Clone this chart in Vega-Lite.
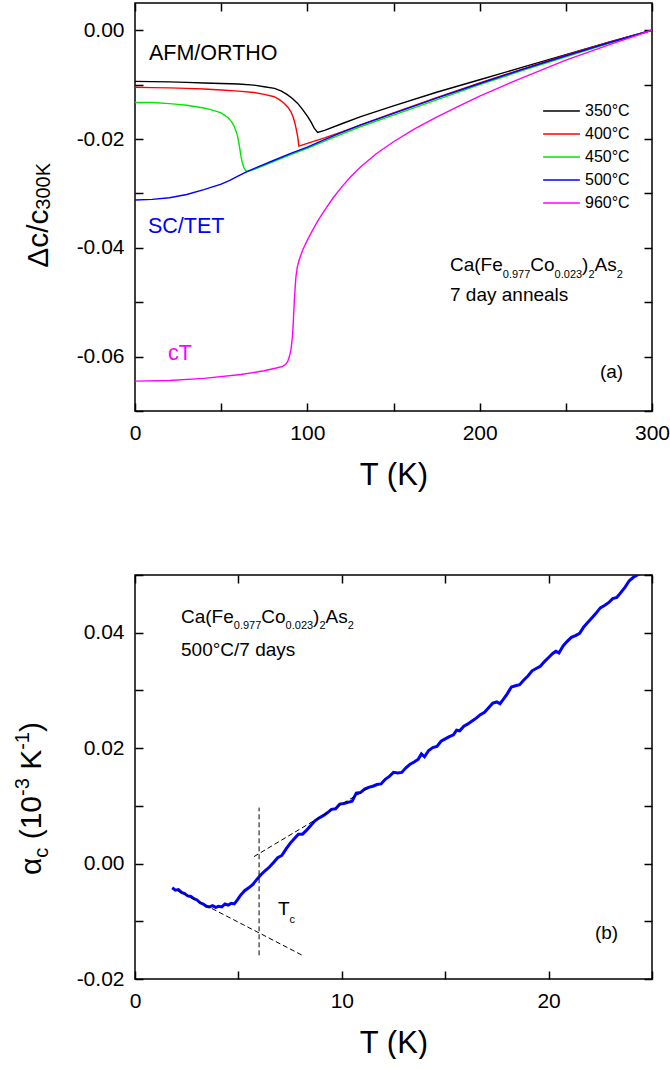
{
  "$schema": "https://vega.github.io/schema/vega-lite/v6.json",
  "background": "white",
  "padding": {"left": 12, "top": 1, "right": 0, "bottom": 0},
  "spacing": 72,
  "config": {
    "font": "Liberation Sans",
    "view": {"stroke": "black", "strokeWidth": 1.5},
    "text": {"font": "Liberation Sans", "color": "black"},
    "axis": {
      "domain": false, "grid": false, "ticks": true,
      "tickSize": -8, "tickColor": "black", "tickWidth": 1.5,
      "labelFont": "Liberation Sans", "labelFontSize": 21, "labelColor": "black",
      "labelPadding": 19, "labelFlush": false, "labelOverlap": false,
      "titleFont": "Liberation Sans", "titleFontSize": 31, "titleFontWeight": "normal",
      "titleColor": "black", "titlePadding": 17
    }
  },
  "resolve": {"scale": {"color": "independent"}, "legend": {"color": "independent"}},
  "vconcat": [
    {
      "width": 517,
      "height": 408,
      "resolve": {"axis": {"x": "independent", "y": "independent"}},
      "layer": [
        {
          "data": {"values": [
            {"T": 0, "v": -0.0094, "anneal": "350°C"}, {"T": 10, "v": -0.00945, "anneal": "350°C"}, {"T": 20, "v": -0.0095, "anneal": "350°C"}, {"T": 30, "v": -0.0096, "anneal": "350°C"}, {"T": 40, "v": -0.0097, "anneal": "350°C"}, {"T": 50, "v": -0.0098, "anneal": "350°C"}, {"T": 60, "v": -0.0099, "anneal": "350°C"}, {"T": 69, "v": -0.0101, "anneal": "350°C"}, {"T": 75, "v": -0.0104, "anneal": "350°C"}, {"T": 81, "v": -0.0107, "anneal": "350°C"}, {"T": 85, "v": -0.0112, "anneal": "350°C"}, {"T": 88.6, "v": -0.0119, "anneal": "350°C"}, {"T": 91.5, "v": -0.0126, "anneal": "350°C"}, {"T": 94.4, "v": -0.01345, "anneal": "350°C"}, {"T": 97.3, "v": -0.0146, "anneal": "350°C"}, {"T": 100.2, "v": -0.0159, "anneal": "350°C"}, {"T": 102.2, "v": -0.0169, "anneal": "350°C"}, {"T": 104, "v": -0.018, "anneal": "350°C"}, {"T": 106, "v": -0.0188, "anneal": "350°C"}, {"T": 110, "v": -0.0184, "anneal": "350°C"}, {"T": 120, "v": -0.0172, "anneal": "350°C"}, {"T": 131, "v": -0.0159, "anneal": "350°C"}, {"T": 150, "v": -0.0139, "anneal": "350°C"}, {"T": 175, "v": -0.0114, "anneal": "350°C"}, {"T": 200, "v": -0.0091, "anneal": "350°C"}, {"T": 225, "v": -0.0068, "anneal": "350°C"}, {"T": 250, "v": -0.0045, "anneal": "350°C"}, {"T": 275, "v": -0.0022, "anneal": "350°C"}, {"T": 300, "v": 0, "anneal": "350°C"},
            {"T": 0, "v": -0.0105, "anneal": "400°C"}, {"T": 10, "v": -0.01055, "anneal": "400°C"}, {"T": 20, "v": -0.0106, "anneal": "400°C"}, {"T": 30, "v": -0.0107, "anneal": "400°C"}, {"T": 40, "v": -0.0108, "anneal": "400°C"}, {"T": 50, "v": -0.011, "anneal": "400°C"}, {"T": 60, "v": -0.0112, "anneal": "400°C"}, {"T": 69, "v": -0.01144, "anneal": "400°C"}, {"T": 75, "v": -0.0118, "anneal": "400°C"}, {"T": 80.8, "v": -0.01223, "anneal": "400°C"}, {"T": 84, "v": -0.0128, "anneal": "400°C"}, {"T": 86.7, "v": -0.01346, "anneal": "400°C"}, {"T": 88.8, "v": -0.0142, "anneal": "400°C"}, {"T": 90.5, "v": -0.015, "anneal": "400°C"}, {"T": 91.8, "v": -0.016, "anneal": "400°C"}, {"T": 92.8, "v": -0.0171, "anneal": "400°C"}, {"T": 93.7, "v": -0.0184, "anneal": "400°C"}, {"T": 94.4, "v": -0.01957, "anneal": "400°C"}, {"T": 95.1, "v": -0.0213, "anneal": "400°C"}, {"T": 100, "v": -0.0208, "anneal": "400°C"}, {"T": 110, "v": -0.0198, "anneal": "400°C"}, {"T": 120, "v": -0.0187, "anneal": "400°C"}, {"T": 131, "v": -0.0174, "anneal": "400°C"}, {"T": 150, "v": -0.0152, "anneal": "400°C"}, {"T": 175, "v": -0.0124, "anneal": "400°C"}, {"T": 200, "v": -0.0097, "anneal": "400°C"}, {"T": 225, "v": -0.0071, "anneal": "400°C"}, {"T": 250, "v": -0.0046, "anneal": "400°C"}, {"T": 275, "v": -0.0022, "anneal": "400°C"}, {"T": 300, "v": 0, "anneal": "400°C"},
            {"T": 0, "v": -0.0133, "anneal": "450°C"}, {"T": 10, "v": -0.0133, "anneal": "450°C"}, {"T": 20, "v": -0.0135, "anneal": "450°C"}, {"T": 25, "v": -0.01364, "anneal": "450°C"}, {"T": 30, "v": -0.0138, "anneal": "450°C"}, {"T": 40, "v": -0.0143, "anneal": "450°C"}, {"T": 45, "v": -0.0147, "anneal": "450°C"}, {"T": 50, "v": -0.0152, "anneal": "450°C"}, {"T": 54, "v": -0.0161, "anneal": "450°C"}, {"T": 56, "v": -0.0168, "anneal": "450°C"}, {"T": 57.6, "v": -0.0177, "anneal": "450°C"}, {"T": 58.7, "v": -0.0186, "anneal": "450°C"}, {"T": 59.6, "v": -0.0196, "anneal": "450°C"}, {"T": 60.6, "v": -0.0213, "anneal": "450°C"}, {"T": 61.5, "v": -0.0232, "anneal": "450°C"}, {"T": 62.3, "v": -0.0244, "anneal": "450°C"}, {"T": 63.1, "v": -0.0252, "anneal": "450°C"}, {"T": 64, "v": -0.0257, "anneal": "450°C"}, {"T": 65, "v": -0.026, "anneal": "450°C"}, {"T": 70, "v": -0.0255, "anneal": "450°C"}, {"T": 80, "v": -0.0242, "anneal": "450°C"}, {"T": 90, "v": -0.0229, "anneal": "450°C"}, {"T": 100, "v": -0.0217, "anneal": "450°C"}, {"T": 110, "v": -0.0204, "anneal": "450°C"}, {"T": 120, "v": -0.0191, "anneal": "450°C"}, {"T": 131, "v": -0.0177, "anneal": "450°C"}, {"T": 150, "v": -0.0156, "anneal": "450°C"}, {"T": 175, "v": -0.0128, "anneal": "450°C"}, {"T": 200, "v": -0.01, "anneal": "450°C"}, {"T": 225, "v": -0.0074, "anneal": "450°C"}, {"T": 250, "v": -0.0049, "anneal": "450°C"}, {"T": 275, "v": -0.0024, "anneal": "450°C"}, {"T": 300, "v": 0, "anneal": "450°C"},
            {"T": 0, "v": -0.0312, "anneal": "500°C"}, {"T": 10, "v": -0.0311, "anneal": "500°C"}, {"T": 20, "v": -0.0308, "anneal": "500°C"}, {"T": 30, "v": -0.0302, "anneal": "500°C"}, {"T": 40, "v": -0.0293, "anneal": "500°C"}, {"T": 50, "v": -0.0283, "anneal": "500°C"}, {"T": 55, "v": -0.0276, "anneal": "500°C"}, {"T": 60, "v": -0.0268, "anneal": "500°C"}, {"T": 65, "v": -0.026, "anneal": "500°C"}, {"T": 70, "v": -0.0253, "anneal": "500°C"}, {"T": 80, "v": -0.024, "anneal": "500°C"}, {"T": 90, "v": -0.0227, "anneal": "500°C"}, {"T": 100, "v": -0.0215, "anneal": "500°C"}, {"T": 110, "v": -0.0201, "anneal": "500°C"}, {"T": 120, "v": -0.0188, "anneal": "500°C"}, {"T": 131, "v": -0.0174, "anneal": "500°C"}, {"T": 150, "v": -0.0153, "anneal": "500°C"}, {"T": 175, "v": -0.0125, "anneal": "500°C"}, {"T": 200, "v": -0.0098, "anneal": "500°C"}, {"T": 225, "v": -0.0072, "anneal": "500°C"}, {"T": 250, "v": -0.0047, "anneal": "500°C"}, {"T": 275, "v": -0.0023, "anneal": "500°C"}, {"T": 300, "v": 0, "anneal": "500°C"},
            {"T": 0, "v": -0.0645, "anneal": "960°C"}, {"T": 20, "v": -0.0644, "anneal": "960°C"}, {"T": 40, "v": -0.064, "anneal": "960°C"}, {"T": 61.5, "v": -0.0633, "anneal": "960°C"}, {"T": 75, "v": -0.0626, "anneal": "960°C"}, {"T": 82, "v": -0.0621, "anneal": "960°C"}, {"T": 85.7, "v": -0.0618, "anneal": "960°C"}, {"T": 87.5, "v": -0.0614, "anneal": "960°C"}, {"T": 88.6, "v": -0.0609, "anneal": "960°C"}, {"T": 89.6, "v": -0.06, "anneal": "960°C"}, {"T": 90.5, "v": -0.0587, "anneal": "960°C"}, {"T": 91, "v": -0.0574, "anneal": "960°C"}, {"T": 91.5, "v": -0.0557, "anneal": "960°C"}, {"T": 92, "v": -0.0527, "anneal": "960°C"}, {"T": 92.5, "v": -0.0495, "anneal": "960°C"}, {"T": 93, "v": -0.047, "anneal": "960°C"}, {"T": 93.4, "v": -0.0453, "anneal": "960°C"}, {"T": 94.2, "v": -0.0435, "anneal": "960°C"}, {"T": 95.3, "v": -0.0422, "anneal": "960°C"}, {"T": 97.3, "v": -0.0404, "anneal": "960°C"}, {"T": 100, "v": -0.0386, "anneal": "960°C"}, {"T": 103, "v": -0.0368, "anneal": "960°C"}, {"T": 106, "v": -0.0351, "anneal": "960°C"}, {"T": 110, "v": -0.0331, "anneal": "960°C"}, {"T": 115, "v": -0.0308, "anneal": "960°C"}, {"T": 120, "v": -0.0288, "anneal": "960°C"}, {"T": 125, "v": -0.027, "anneal": "960°C"}, {"T": 131, "v": -0.0251, "anneal": "960°C"}, {"T": 140, "v": -0.0227, "anneal": "960°C"}, {"T": 150, "v": -0.0205, "anneal": "960°C"}, {"T": 162, "v": -0.0182, "anneal": "960°C"}, {"T": 175, "v": -0.016, "anneal": "960°C"}, {"T": 187, "v": -0.0141, "anneal": "960°C"}, {"T": 200, "v": -0.0121, "anneal": "960°C"}, {"T": 225, "v": -0.0087, "anneal": "960°C"}, {"T": 250, "v": -0.0055, "anneal": "960°C"}, {"T": 275, "v": -0.0027, "anneal": "960°C"}, {"T": 300, "v": 0, "anneal": "960°C"}
          ]},
          "mark": {"type": "line", "strokeWidth": 1.4, "clip": true},
          "encoding": {
            "x": {"field": "T", "type": "quantitative", "scale": {"domain": [0, 300], "nice": false},
                  "axis": {"orient": "bottom", "values": [0, 50, 100, 150, 200, 250, 300], "labelExpr": "datum.value % 100 === 0 ? datum.label : ''", "title": "T (K)"}},
            "y": {"field": "v", "type": "quantitative", "scale": {"domain": [-0.07, 0.005], "nice": false},
                  "axis": {"orient": "left", "values": [-0.07, -0.06, -0.05, -0.04, -0.03, -0.02, -0.01, 0], "format": ".2f", "labelExpr": "abs(round(datum.value*100)) % 2 === 0 ? replace(datum.label, '−', '-') : ''", "title": null}},
            "color": {"field": "anneal", "type": "nominal",
                      "scale": {"domain": ["350°C", "400°C", "450°C", "500°C", "960°C"], "range": ["#000000", "#ff0000", "#00e600", "#0000ff", "#ff00ff"]},
                      "legend": {"orient": "none", "legendX": 407, "legendY": 100, "title": null, "padding": 0,
                                 "symbolType": "stroke", "symbolSize": 1350, "symbolStrokeWidth": 1.5,
                                 "labelFont": "Liberation Sans", "labelFontSize": 16, "labelColor": "black", "labelOffset": 4,
                                 "clipHeight": 16, "rowPadding": 7}}
          }
        },
        {"data": {"values": [{}]}, "mark": {"type": "text", "text": "AFM/ORTHO", "fontSize": 21.5, "align": "left", "baseline": "alphabetic", "color": "black"},
         "encoding": {"x": {"datum": 8.1, "type": "quantitative", "axis": null}, "y": {"datum": -0.0055, "type": "quantitative", "axis": null}}},
        {"data": {"values": [{}]}, "mark": {"type": "text", "text": "SC/TET", "fontSize": 21.5, "align": "left", "baseline": "alphabetic", "color": "#0000ff"},
         "encoding": {"x": {"datum": 7.5, "type": "quantitative", "axis": null}, "y": {"datum": -0.03725, "type": "quantitative", "axis": null}}},
        {"data": {"values": [{}]}, "mark": {"type": "text", "text": "cT", "fontSize": 21.5, "align": "left", "baseline": "alphabetic", "color": "#ff00ff"},
         "encoding": {"x": {"datum": 19.1, "type": "quantitative", "axis": null}, "y": {"datum": -0.06055, "type": "quantitative", "axis": null}}},
        {"data": {"values": [{}]}, "mark": {"type": "text", "text": "Ca(Fe", "fontSize": 19, "align": "left", "baseline": "alphabetic"},
         "encoding": {"x": {"datum": 182.79, "type": "quantitative", "axis": null}, "y": {"datum": -0.04435, "type": "quantitative", "axis": null}}},
        {"data": {"values": [{}]}, "mark": {"type": "text", "text": "0.977", "fontSize": 11, "align": "left", "baseline": "alphabetic"},
         "encoding": {"x": {"datum": 213.42, "type": "quantitative", "axis": null}, "y": {"datum": -0.04556, "type": "quantitative", "axis": null}}},
        {"data": {"values": [{}]}, "mark": {"type": "text", "text": "Co", "fontSize": 19, "align": "left", "baseline": "alphabetic"},
         "encoding": {"x": {"datum": 229.38, "type": "quantitative", "axis": null}, "y": {"datum": -0.04435, "type": "quantitative", "axis": null}}},
        {"data": {"values": [{}]}, "mark": {"type": "text", "text": "0.023", "fontSize": 11, "align": "left", "baseline": "alphabetic"},
         "encoding": {"x": {"datum": 243.48, "type": "quantitative", "axis": null}, "y": {"datum": -0.04556, "type": "quantitative", "axis": null}}},
        {"data": {"values": [{}]}, "mark": {"type": "text", "text": ")", "fontSize": 19, "align": "left", "baseline": "alphabetic"},
         "encoding": {"x": {"datum": 259.44, "type": "quantitative", "axis": null}, "y": {"datum": -0.04435, "type": "quantitative", "axis": null}}},
        {"data": {"values": [{}]}, "mark": {"type": "text", "text": "2", "fontSize": 11, "align": "left", "baseline": "alphabetic"},
         "encoding": {"x": {"datum": 263.09, "type": "quantitative", "axis": null}, "y": {"datum": -0.04556, "type": "quantitative", "axis": null}}},
        {"data": {"values": [{}]}, "mark": {"type": "text", "text": "As", "fontSize": 19, "align": "left", "baseline": "alphabetic"},
         "encoding": {"x": {"datum": 266.63, "type": "quantitative", "axis": null}, "y": {"datum": -0.04435, "type": "quantitative", "axis": null}}},
        {"data": {"values": [{}]}, "mark": {"type": "text", "text": "2", "fontSize": 11, "align": "left", "baseline": "alphabetic"},
         "encoding": {"x": {"datum": 279.52, "type": "quantitative", "axis": null}, "y": {"datum": -0.04556, "type": "quantitative", "axis": null}}},
        {"data": {"values": [{}]}, "mark": {"type": "text", "text": "7 day anneals", "fontSize": 19, "align": "left", "baseline": "alphabetic"},
         "encoding": {"x": {"datum": 182.79, "type": "quantitative", "axis": null}, "y": {"datum": -0.04972, "type": "quantitative", "axis": null}}},
        {"data": {"values": [{}]}, "mark": {"type": "text", "text": "Δc/c", "fontSize": 30, "angle": 270, "align": "left", "baseline": "alphabetic"},
         "encoding": {"x": {"datum": -50.48, "type": "quantitative", "axis": null}, "y": {"datum": -0.04367, "type": "quantitative", "axis": null}}},
        {"data": {"values": [{}]}, "mark": {"type": "text", "text": "300K", "fontSize": 20, "angle": 270, "align": "left", "baseline": "alphabetic"},
         "encoding": {"x": {"datum": -49.61, "type": "quantitative", "axis": null}, "y": {"datum": -0.033, "type": "quantitative", "axis": null}}},
        {"data": {"values": [{}]}, "mark": {"type": "text", "text": "(a)", "fontSize": 19, "align": "left", "baseline": "alphabetic"},
         "encoding": {
           "x": {"datum": 269.8, "type": "quantitative", "axis": {"orient": "top", "values": [0, 50, 100, 150, 200, 250, 300], "labels": false, "title": null}},
           "y": {"datum": -0.06385, "type": "quantitative", "axis": {"orient": "right", "values": [-0.07, -0.06, -0.05, -0.04, -0.03, -0.02, -0.01, 0], "labels": false, "title": null}}
         }}
      ]
    },
    {
      "width": 517,
      "height": 404,
      "resolve": {"axis": {"x": "independent", "y": "independent"}},
      "layer": [
        {
          "data": {"values": [
            {"T": 1.8, "a": -0.0042}, {"T": 1.95, "a": -0.0046}, {"T": 2.1, "a": -0.0045}, {"T": 2.25, "a": -0.005}, {"T": 2.4, "a": -0.0052}, {"T": 2.55, "a": -0.0056}, {"T": 2.7, "a": -0.0057}, {"T": 2.85, "a": -0.0061}, {"T": 3.0, "a": -0.0063}, {"T": 3.15, "a": -0.0068}, {"T": 3.3, "a": -0.007}, {"T": 3.45, "a": -0.0074}, {"T": 3.6, "a": -0.0075}, {"T": 3.75, "a": -0.0073}, {"T": 3.9, "a": -0.0076}, {"T": 4.05, "a": -0.0074}, {"T": 4.2, "a": -0.0075}, {"T": 4.35, "a": -0.007}, {"T": 4.5, "a": -0.0072}, {"T": 4.65, "a": -0.0069}, {"T": 4.8, "a": -0.007}, {"T": 4.95, "a": -0.0063},
            {"T": 5.1, "a": -0.0055}, {"T": 5.3, "a": -0.0047}, {"T": 5.5, "a": -0.0042}, {"T": 5.7, "a": -0.0036}, {"T": 5.9, "a": -0.0027}, {"T": 6.1, "a": -0.0019}, {"T": 6.3, "a": -0.0012}, {"T": 6.5, "a": -0.0006}, {"T": 6.7, "a": 0.0002}, {"T": 6.9, "a": 0.001}, {"T": 7.1, "a": 0.0014}, {"T": 7.3, "a": 0.0025}, {"T": 7.5, "a": 0.0035}, {"T": 7.7, "a": 0.0043}, {"T": 7.9, "a": 0.0051}, {"T": 8.1, "a": 0.0051}, {"T": 8.3, "a": 0.0058}, {"T": 8.5, "a": 0.0066}, {"T": 8.7, "a": 0.0074}, {"T": 8.9, "a": 0.0079},
            {"T": 9.1, "a": 0.0083}, {"T": 9.3, "a": 0.0088}, {"T": 9.5, "a": 0.0094}, {"T": 9.7, "a": 0.0095}, {"T": 9.9, "a": 0.0103}, {"T": 10.1, "a": 0.0104}, {"T": 10.3, "a": 0.0106}, {"T": 10.5, "a": 0.0108}, {"T": 10.7, "a": 0.0122}, {"T": 10.9, "a": 0.0123}, {"T": 11.1, "a": 0.0129}, {"T": 11.3, "a": 0.0132}, {"T": 11.5, "a": 0.0134}, {"T": 11.7, "a": 0.0137}, {"T": 11.9, "a": 0.0138}, {"T": 12.1, "a": 0.0146}, {"T": 12.3, "a": 0.0151}, {"T": 12.5, "a": 0.0158}, {"T": 12.7, "a": 0.0157}, {"T": 12.9, "a": 0.0158},
            {"T": 13.1, "a": 0.0166}, {"T": 13.3, "a": 0.0172}, {"T": 13.5, "a": 0.0176}, {"T": 13.7, "a": 0.0181}, {"T": 13.85, "a": 0.019}, {"T": 14.0, "a": 0.0185}, {"T": 14.2, "a": 0.0196}, {"T": 14.4, "a": 0.0201}, {"T": 14.6, "a": 0.0203}, {"T": 14.8, "a": 0.0212}, {"T": 15.0, "a": 0.0216}, {"T": 15.2, "a": 0.022}, {"T": 15.4, "a": 0.0223}, {"T": 15.55, "a": 0.0231}, {"T": 15.7, "a": 0.023}, {"T": 15.9, "a": 0.0238}, {"T": 16.1, "a": 0.0242}, {"T": 16.3, "a": 0.0247}, {"T": 16.5, "a": 0.0252}, {"T": 16.7, "a": 0.0258},
            {"T": 16.9, "a": 0.0262}, {"T": 17.1, "a": 0.027}, {"T": 17.3, "a": 0.0278}, {"T": 17.5, "a": 0.028}, {"T": 17.65, "a": 0.0277}, {"T": 17.8, "a": 0.0284}, {"T": 18.0, "a": 0.0294}, {"T": 18.2, "a": 0.0306}, {"T": 18.4, "a": 0.0308}, {"T": 18.6, "a": 0.031}, {"T": 18.8, "a": 0.0318}, {"T": 19.0, "a": 0.0325}, {"T": 19.2, "a": 0.0334}, {"T": 19.4, "a": 0.0338}, {"T": 19.6, "a": 0.0342}, {"T": 19.8, "a": 0.035}, {"T": 20.0, "a": 0.0357}, {"T": 20.2, "a": 0.0364}, {"T": 20.35, "a": 0.0368}, {"T": 20.5, "a": 0.0365},
            {"T": 20.7, "a": 0.0377}, {"T": 20.9, "a": 0.0385}, {"T": 21.1, "a": 0.0392}, {"T": 21.3, "a": 0.0395}, {"T": 21.5, "a": 0.0399}, {"T": 21.7, "a": 0.041}, {"T": 21.9, "a": 0.0418}, {"T": 22.1, "a": 0.0426}, {"T": 22.3, "a": 0.0434}, {"T": 22.5, "a": 0.0443}, {"T": 22.7, "a": 0.0447}, {"T": 22.9, "a": 0.0452}, {"T": 23.1, "a": 0.0459}, {"T": 23.3, "a": 0.0461}, {"T": 23.5, "a": 0.047}, {"T": 23.7, "a": 0.0479}, {"T": 23.9, "a": 0.049}, {"T": 24.1, "a": 0.0496}, {"T": 24.3, "a": 0.05}, {"T": 24.45, "a": 0.0503}
          ]},
          "mark": {"type": "line", "strokeWidth": 3, "color": "#0000ff", "clip": true},
          "encoding": {
            "x": {"field": "T", "type": "quantitative", "scale": {"domain": [0, 25], "nice": false},
                  "axis": {"orient": "bottom", "values": [0, 5, 10, 15, 20, 25], "labelExpr": "datum.value % 10 === 0 ? datum.label : ''", "title": "T (K)"}},
            "y": {"field": "a", "type": "quantitative", "scale": {"domain": [-0.02, 0.05], "nice": false},
                  "axis": {"orient": "left", "values": [-0.02, -0.01, 0, 0.01, 0.02, 0.03, 0.04, 0.05], "format": ".2f", "labelExpr": "abs(round(datum.value*100)) % 2 === 0 ? replace(datum.label, '−', '-') : ''", "title": null}}
          }
        },
        {
          "data": {"values": [
            {"fit": "Tc", "T": 6.0, "a": -0.0159}, {"fit": "Tc", "T": 6.0, "a": 0.0097},
            {"fit": "low", "T": 2.0, "a": -0.0046}, {"fit": "low", "T": 8.15, "a": -0.016},
            {"fit": "high", "T": 5.75, "a": 0.0012}, {"fit": "high", "T": 11.3, "a": 0.0131}
          ]},
          "mark": {"type": "line", "strokeWidth": 1, "color": "black", "strokeDash": [5, 3]},
          "encoding": {
            "x": {"field": "T", "type": "quantitative", "axis": null},
            "y": {"field": "a", "type": "quantitative", "axis": null},
            "detail": {"field": "fit", "type": "nominal"}
          }
        },
        {"data": {"values": [{}]}, "mark": {"type": "text", "text": "Ca(Fe", "fontSize": 19, "align": "left", "baseline": "alphabetic"},
         "encoding": {"x": {"datum": 2.224, "type": "quantitative", "axis": null}, "y": {"datum": 0.041735, "type": "quantitative", "axis": null}}},
        {"data": {"values": [{}]}, "mark": {"type": "text", "text": "0.977", "fontSize": 11, "align": "left", "baseline": "alphabetic"},
         "encoding": {"x": {"datum": 4.778, "type": "quantitative", "axis": null}, "y": {"datum": 0.040644, "type": "quantitative", "axis": null}}},
        {"data": {"values": [{}]}, "mark": {"type": "text", "text": "Co", "fontSize": 19, "align": "left", "baseline": "alphabetic"},
         "encoding": {"x": {"datum": 6.107, "type": "quantitative", "axis": null}, "y": {"datum": 0.041735, "type": "quantitative", "axis": null}}},
        {"data": {"values": [{}]}, "mark": {"type": "text", "text": "0.023", "fontSize": 11, "align": "left", "baseline": "alphabetic"},
         "encoding": {"x": {"datum": 7.282, "type": "quantitative", "axis": null}, "y": {"datum": 0.040644, "type": "quantitative", "axis": null}}},
        {"data": {"values": [{}]}, "mark": {"type": "text", "text": ")", "fontSize": 19, "align": "left", "baseline": "alphabetic"},
         "encoding": {"x": {"datum": 8.612, "type": "quantitative", "axis": null}, "y": {"datum": 0.041735, "type": "quantitative", "axis": null}}},
        {"data": {"values": [{}]}, "mark": {"type": "text", "text": "2", "fontSize": 11, "align": "left", "baseline": "alphabetic"},
         "encoding": {"x": {"datum": 8.917, "type": "quantitative", "axis": null}, "y": {"datum": 0.040644, "type": "quantitative", "axis": null}}},
        {"data": {"values": [{}]}, "mark": {"type": "text", "text": "As", "fontSize": 19, "align": "left", "baseline": "alphabetic"},
         "encoding": {"x": {"datum": 9.212, "type": "quantitative", "axis": null}, "y": {"datum": 0.041735, "type": "quantitative", "axis": null}}},
        {"data": {"values": [{}]}, "mark": {"type": "text", "text": "2", "fontSize": 11, "align": "left", "baseline": "alphabetic"},
         "encoding": {"x": {"datum": 10.285, "type": "quantitative", "axis": null}, "y": {"datum": 0.040644, "type": "quantitative", "axis": null}}},
        {"data": {"values": [{}]}, "mark": {"type": "text", "text": "500°C/7 days", "fontSize": 19, "align": "left", "baseline": "alphabetic"},
         "encoding": {"x": {"datum": 2.224, "type": "quantitative", "axis": null}, "y": {"datum": 0.03588, "type": "quantitative", "axis": null}}},
        {"data": {"values": [{}]}, "mark": {"type": "text", "text": "T", "fontSize": 19, "align": "left", "baseline": "alphabetic"},
         "encoding": {"x": {"datum": 6.915, "type": "quantitative", "axis": null}, "y": {"datum": -0.00891, "type": "quantitative", "axis": null}}},
        {"data": {"values": [{}]}, "mark": {"type": "text", "text": "c", "fontSize": 11, "align": "left", "baseline": "alphabetic"},
         "encoding": {"x": {"datum": 7.476, "type": "quantitative", "axis": null}, "y": {"datum": -0.0103, "type": "quantitative", "axis": null}}},
        {"data": {"values": [{}]}, "mark": {"type": "text", "text": "α", "fontSize": 30, "angle": 270, "align": "left", "baseline": "alphabetic"},
         "encoding": {"x": {"datum": -4.545, "type": "quantitative", "axis": null}, "y": {"datum": -0.00198, "type": "quantitative", "axis": null}}},
        {"data": {"values": [{}]}, "mark": {"type": "text", "text": "c", "fontSize": 20, "angle": 270, "align": "left", "baseline": "alphabetic"},
         "encoding": {"x": {"datum": -4.207, "type": "quantitative", "axis": null}, "y": {"datum": 0.00102, "type": "quantitative", "axis": null}}},
        {"data": {"values": [{}]}, "mark": {"type": "text", "text": "(10", "fontSize": 30, "angle": 270, "align": "left", "baseline": "alphabetic"},
         "encoding": {"x": {"datum": -4.545, "type": "quantitative", "axis": null}, "y": {"datum": 0.004195, "type": "quantitative", "axis": null}}},
        {"data": {"values": [{}]}, "mark": {"type": "text", "text": "-3", "fontSize": 20, "angle": 270, "align": "left", "baseline": "alphabetic"},
         "encoding": {"x": {"datum": -5.126, "type": "quantitative", "axis": null}, "y": {"datum": 0.01171, "type": "quantitative", "axis": null}}},
        {"data": {"values": [{}]}, "mark": {"type": "text", "text": "K", "fontSize": 30, "angle": 270, "align": "left", "baseline": "alphabetic"},
         "encoding": {"x": {"datum": -4.545, "type": "quantitative", "axis": null}, "y": {"datum": 0.016237, "type": "quantitative", "axis": null}}},
        {"data": {"values": [{}]}, "mark": {"type": "text", "text": "-1", "fontSize": 20, "angle": 270, "align": "left", "baseline": "alphabetic"},
         "encoding": {"x": {"datum": -5.126, "type": "quantitative", "axis": null}, "y": {"datum": 0.0197, "type": "quantitative", "axis": null}}},
        {"data": {"values": [{}]}, "mark": {"type": "text", "text": ")", "fontSize": 30, "angle": 270, "align": "left", "baseline": "alphabetic"},
         "encoding": {"x": {"datum": -4.545, "type": "quantitative", "axis": null}, "y": {"datum": 0.02279, "type": "quantitative", "axis": null}}},
        {"data": {"values": [{}]}, "mark": {"type": "text", "text": "(b)", "fontSize": 19, "align": "left", "baseline": "alphabetic"},
         "encoding": {
           "x": {"datum": 22.24, "type": "quantitative", "axis": {"orient": "top", "values": [0, 5, 10, 15, 20, 25], "labels": false, "title": null}},
           "y": {"datum": -0.01307, "type": "quantitative", "axis": {"orient": "right", "values": [-0.02, -0.01, 0, 0.01, 0.02, 0.03, 0.04, 0.05], "labels": false, "title": null}}
         }}
      ]
    }
  ]
}
